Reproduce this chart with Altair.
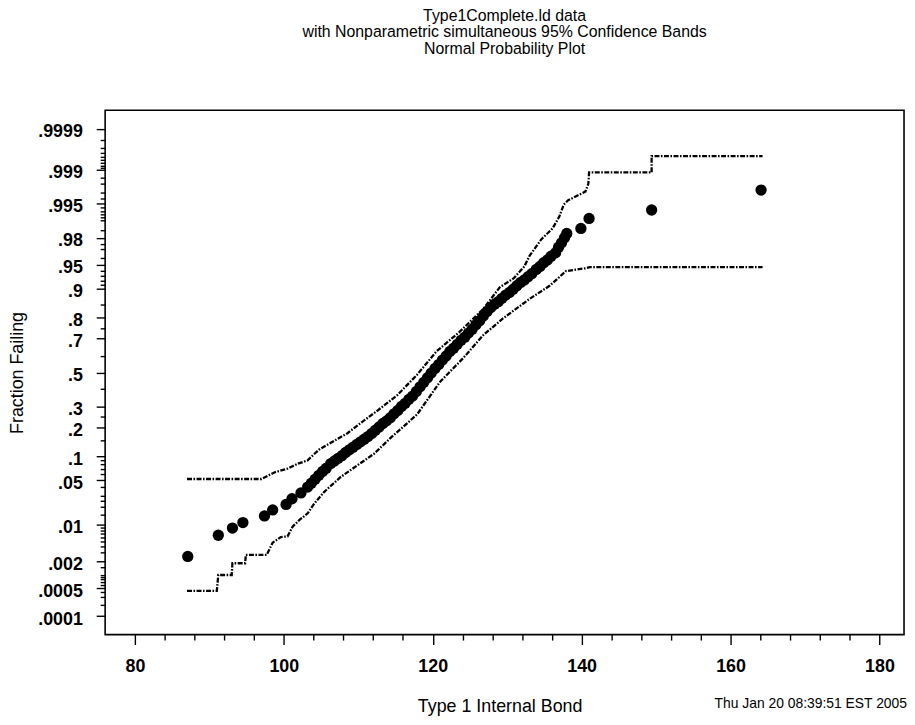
import altair as alt
import pandas as pd
from statistics import NormalDist

ND = NormalDist()

# ---- data ----
bond = [87.1, 91.2, 93.1, 94.5, 97.4, 98.5, 100.3, 101.1, 102.3,
        103.2, 103.7, 104.2, 104.7, 105.2, 105.7, 106.3, 106.8, 107.3, 107.8,
        108.3, 108.8, 109.3, 109.8, 110.3, 110.8, 111.3, 111.8, 112.3, 112.8,
        113.3, 113.8, 114.3, 114.8, 115.3, 115.8, 116.3, 116.8, 117.3, 117.8,
        118.3, 118.8, 119.3, 119.8, 120.3, 120.8, 121.3, 121.8, 122.3, 122.8,
        123.3, 123.8, 124.3, 124.8, 125.3, 125.8, 126.3, 126.8, 127.3, 127.8,
        128.3, 128.8, 129.3, 129.8, 130.3, 130.8, 131.3, 131.8, 132.3, 132.8,
        133.3, 133.9, 134.4, 134.9, 135.4, 135.9, 136.5, 136.9, 137.3, 137.7,
        138.0, 139.9, 141.0, 149.4, 164.1]
frac = [.0025, .0065, .0088, .011, .0143, .018, .022, .027, .033,
        .0401, .0455, .0516, .0582, .0655, .0721, .0823, .0885, .0951, .102,
        .111, .119, .127, .136, .145, .154, .164, .176, .189, .203,
        .218, .230, .245, .264, .281, .302, .319, .341, .359, .386,
        .413, .440, .468, .496, .524, .548, .575, .599, .626, .644,
        .666, .688, .705, .726, .745, .767, .785, .805, .824, .839,
        .851, .860, .871, .881, .889, .898, .907, .915, .921, .928,
        .934, .942, .947, .953, .957, .962, .966, .972, .976, .980,
        .983, .986, .9906, .9934, .9973]

upper_x = [87.0, 97.0, 98.8, 100.5, 101.9, 103.2, 104.7, 106.8, 108.5, 110.7,
           112.5, 115.2, 117.9, 120.5, 123.6, 126.8, 129.0, 130.9, 132.3, 133.0,
           134.6, 136.1, 137.0, 137.6, 138.2, 140.5, 140.9, 141.0, 149.4, 149.4,
           164.3]
upper_p = [.052, .052, .064, .071, .082, .090, .119, .149, .176, .230,
           .278, .363, .486, .626, .732, .834, .903, .925, .947, .9625,
           .979, .986, .9913, .9948, .9957, .9971, .998, .99886, .99886, .99952,
           .99952]

lower_x = [87.0, 91.0, 91.2, 93.0, 93.1, 94.8, 94.9, 97.7, 98.5, 99.6,
           100.5, 101.2, 102.1, 103.2, 104.1, 105.4, 107.6, 109.6, 112.1, 114.3,
           117.9, 121.0, 124.1, 126.8, 129.4, 133.0, 135.7, 137.9, 140.5, 141.1,
           164.3]
lower_p = [.00043, .00043, .001, .001, .0018, .0018, .0027, .0027, .0047, .006,
           .0062, .0094, .0122, .0158, .0228, .034, .055, .075, .107, .158,
           .261, .444, .587, .716, .794, .869, .907, .939, .944, .946,
           .946]

y_major_p = [0.0001, 0.0005, 0.002, 0.01, 0.05, 0.1, 0.2, 0.3, 0.5,
             0.7, 0.8, 0.9, 0.95, 0.98, 0.995, 0.999, 0.9999]
y_major_lab = ['.0001', '.0005', '.002', '.01', '.05', '.1', '.2', '.3', '.5',
               '.7', '.8', '.9', '.95', '.98', '.995', '.999', '.9999']
y_minor_p = [0.0002, 0.0003, 0.0004, 0.0006, 0.0007, 0.0008, 0.0009, 0.001,
             0.0015, 0.003, 0.004, 0.005, 0.006, 0.007, 0.008, 0.009, 0.015,
             0.02, 0.025, 0.03, 0.04, 0.06, 0.07, 0.08, 0.09, 0.15, 0.25, 0.4,
             0.6, 0.75, 0.85, 0.91, 0.92, 0.93, 0.94, 0.96, 0.97, 0.975, 0.985,
             0.99, 0.991, 0.992, 0.993, 0.994, 0.996, 0.997, 0.998, 0.9985,
             0.9991, 0.9992, 0.9993, 0.9994, 0.9995, 0.9996, 0.9997, 0.9998]

x_major = [80, 100, 120, 140, 160, 180]
x_minor = [84, 88, 92, 96, 104, 108, 112, 116, 124, 128, 132, 136,
           144, 148, 152, 156, 164, 168, 172, 176]

title_lines = ["Type1Complete.ld data",
               "with Nonparametric  simultaneous 95% Confidence Bands",
               "Normal Probability Plot"]
x_title = "Type 1 Internal Bond"
y_title = "Fraction Failing"
stamp = "Thu Jan 20 08:39:51 EST 2005"

FONT = "Liberation Sans"
X_DOMAIN = [76, 183.3]
Z_DOMAIN = [-4, 4]
W, H = 806, 529


def zq(p):
    return round(ND.inv_cdf(p), 6)


pts = pd.DataFrame({"x": bond, "z": [zq(p) for p in frac]})
up = pd.DataFrame({"x": upper_x, "z": [zq(p) for p in upper_p], "i": range(len(upper_x))})
lo = pd.DataFrame({"x": lower_x, "z": [zq(p) for p in lower_p], "i": range(len(lower_x))})

zmaj = [zq(p) for p in y_major_p]
zmin = [zq(p) for p in y_minor_p]
label_expr = "".join(f"datum.value == {z} ? '{l}' : " for z, l in zip(zmaj, y_major_lab)) + "''"
zmaj_js = "[" + ",".join(str(z) for z in zmaj) + "]"

xscale = alt.Scale(domain=X_DOMAIN, nice=False, zero=False)
yscale = alt.Scale(domain=Z_DOMAIN, nice=False, zero=False)

xaxis = alt.Axis(
    values=x_major + x_minor,
    labelExpr="datum.value % 20 == 0 ? datum.label : ''",
    tickSize={"condition": {"test": "datum.value % 20 == 0", "value": 10}, "value": 5.5},
    grid=False, domain=False, labelOverlap=False, labelFlush=False,
    labelFontSize=18, labelFontWeight="bold", labelPadding=13, labelFont=FONT,
    labelColor="black", tickColor="black", tickWidth=1.4,
    title=x_title, titleFont=FONT, titleFontSize=18, titleFontWeight="normal",
    titleColor="black", titleX=398, titleY=73, titleBaseline="middle",
    titleAlign="center",
)
yaxis = alt.Axis(
    values=zmaj + zmin,
    labelExpr=label_expr,
    tickSize={"condition": {"test": f"indexof({zmaj_js}, datum.value) >= 0", "value": 9}, "value": 5},
    grid=False, domain=False, labelOverlap=False, labelFlush=False,
    labelFontSize=18, labelFontWeight="bold", labelPadding=14, labelOffset=3,
    labelFont=FONT, labelColor="black", tickColor="black", tickWidth=1.4,
    title=y_title, titleFont=FONT, titleFontSize=18, titleFontWeight="normal",
    titleColor="black", titleX=-88, titleY=H / 2, titleAngle=-90,
    titleBaseline="middle", titleAlign="center",
)

X = alt.X("x:Q", scale=xscale, axis=xaxis)
Y = alt.Y("z:Q", scale=yscale, axis=yaxis)

points = alt.Chart(pts).mark_circle(size=130, opacity=1, color="black").encode(x=X, y=Y)

band_style = dict(color="black", strokeWidth=2.3, strokeDash=[5, 1.5, 1.6, 1.5], strokeCap="butt")
upper = alt.Chart(up).mark_line(**band_style).encode(x=X, y=Y, order="i:Q")
lower = alt.Chart(lo).mark_line(**band_style).encode(x=X, y=Y, order="i:Q")

stamp_mark = alt.Chart(pd.DataFrame({"t": [stamp]})).mark_text(
    align="right", baseline="middle", font=FONT, fontSize=14, color="black", dx=3
).encode(text="t:N", x=alt.value(W), y=alt.value(H + 70))

chart = alt.layer(points, upper, lower, stamp_mark).properties(
    width=W, height=H,
    title=alt.TitleParams(
        text=title_lines, font=FONT, fontSize=16, fontWeight="normal",
        color="black", anchor="middle", lineHeight=16.5, offset=54,
    ),
    autosize=alt.AutoSizeParams(type="none"),
    padding={"left": 98, "top": 100, "right": 3, "bottom": 88},
).configure(background="white").configure_view(stroke="black", strokeWidth=1.6)

chart.save("out.html", embed_options={"renderer": "svg", "actions": False})
